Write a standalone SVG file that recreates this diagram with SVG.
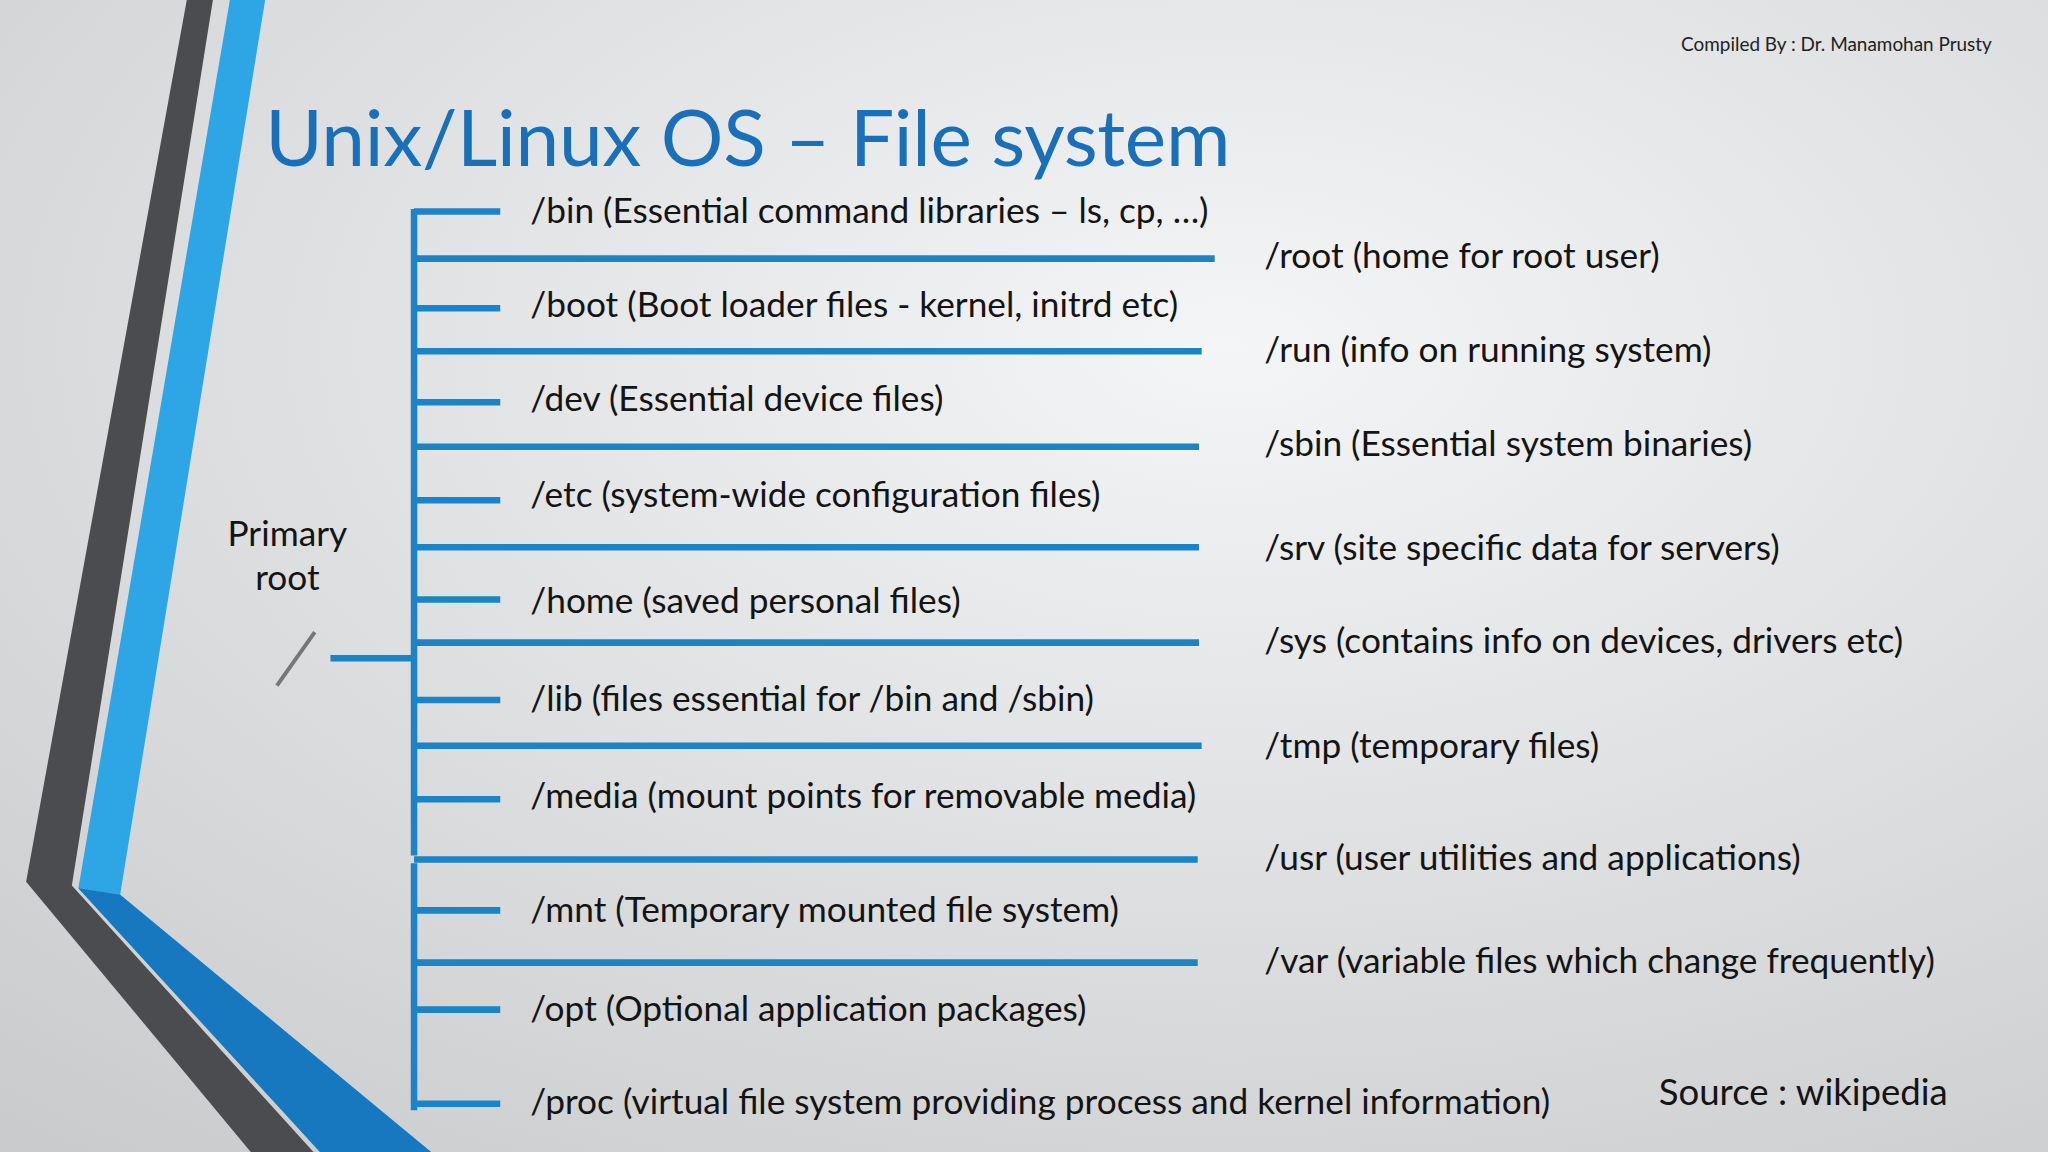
<svg xmlns="http://www.w3.org/2000/svg" width="2048" height="1152" viewBox="0 0 2048 1152">
<defs>
<radialGradient id="bg" cx="0.6" cy="0.3" r="0.9"><stop offset="0" stop-color="#f4f5f6"/><stop offset="1" stop-color="#c9cbcd"/></radialGradient>
<style>
.t{font-family:Lato,"Open Sans",sans-serif;font-size:27px;fill:#141414}
.l{stroke:#1a84c6;stroke-width:5;fill:none}
</style>
</defs>
<rect width="2048" height="1152" fill="url(#bg)"/>
<g transform="scale(1.30612)">
<g id="decor">
<polygon points="143,0 163,0 55,678 240,882 192,882 20,675" fill="#4a4c4f"/>
<polygon points="176,0 203,0 92,685 330,882 245,882 60,680" fill="#2ea6e6"/>
<polygon points="60,680 92,685 330,882 245,882" fill="#1878bf"/>
</g>
<text x="1525" y="39" text-anchor="end" style="font-family:Lato,sans-serif;font-size:14.5px;fill:#222">Compiled By : Dr. Manamohan Prusty</text>
<text id="title" x="203" y="127" textLength="739" style="font-family:Lato,'Open Sans',sans-serif;font-size:60px;fill:#1a70b8">Unix/Linux OS – File system</text>
<g id="connectors" class="l">
<path d="M317,160V655M317,661V850"/>
<path d="M317,162H383M317,236H383M317,308H383M317,383H383M317,459H383M317,536H383M317,612H383M317,697H383M317,773H383M317,845H383"/>
<path d="M317,198H930M317,269H920M317,342H918M317,419H918M317,492H918M317,571H920M317,658H917M317,737H917"/>
<path d="M253,504H317"/>
</g>
<line x1="212" y1="525" x2="241" y2="484" stroke="#777" stroke-width="3"/>
<g id="root"><text class="t" x="220" y="418" text-anchor="middle">Primary</text><text class="t" x="220" y="452" text-anchor="middle">root</text></g>
<g id="left">
<text class="t" x="406" y="171">/bin (Essential command libraries – ls, cp, …)</text>
<text class="t" x="406" y="243">/boot (Boot loader files - kernel, initrd etc)</text>
<text class="t" x="406" y="315">/dev (Essential device files)</text>
<text class="t" x="406" y="388">/etc (system-wide configuration files)</text>
<text class="t" x="406" y="469">/home (saved personal files)</text>
<text class="t" x="406" y="544">/lib (files essential for /bin and /sbin)</text>
<text class="t" x="406" y="619">/media (mount points for removable media)</text>
<text class="t" x="406" y="706">/mnt (Temporary mounted file system)</text>
<text class="t" x="406" y="782">/opt (Optional application packages)</text>
<text class="t" x="406" y="853">/proc (virtual file system providing process and kernel information)</text>
</g>
<g id="right">
<text class="t" x="968" y="205">/root (home for root user)</text>
<text class="t" x="968" y="277">/run (info on running system)</text>
<text class="t" x="968" y="349">/sbin (Essential system binaries)</text>
<text class="t" x="968" y="429">/srv (site specific data for servers)</text>
<text class="t" x="968" y="500">/sys (contains info on devices, drivers etc)</text>
<text class="t" x="968" y="580">/tmp (temporary files)</text>
<text class="t" x="968" y="666">/usr (user utilities and applications)</text>
<text class="t" x="968" y="745">/var (variable files which change frequently)</text>
</g>
<text class="t" x="1270" y="846" style="font-size:28px">Source : wikipedia</text>
</g>
</svg>
